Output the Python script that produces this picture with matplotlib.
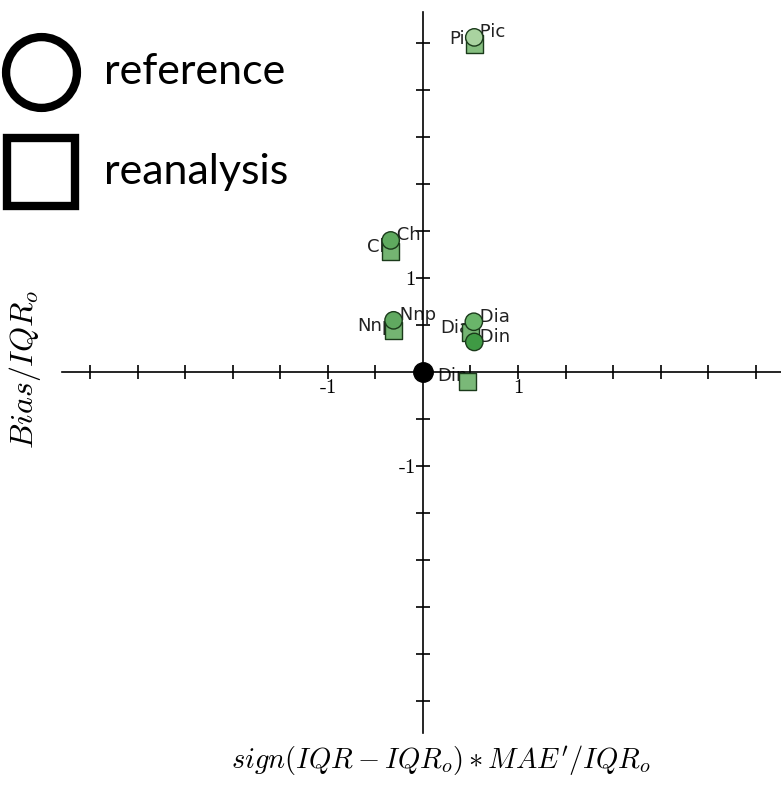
import numpy as np
import matplotlib
matplotlib.use("Agg")
import matplotlib.pyplot as plt

# ---- data ----
names = ["Pic", "Ch", "Nnp", "Dia", "Din"]
ref_x = [0.54, -0.34, -0.31, 0.535, 0.54]
ref_y = [3.56, 1.40, 0.55, 0.535, 0.32]
rea_x = [0.54, -0.34, -0.31, 0.50, 0.47]
rea_y = [3.49, 1.28, 0.44, 0.42, -0.10]
obs_x = [0.0]
obs_y = [0.0]
tick_vals = [-3.5, -3.0, -2.5, -2.0, -1.5, -1.0, -0.5, 0.5, 1.0, 1.5, 2.0, 2.5, 3.0, 3.5]
tick_text = {-1.0: "-1", 1.0: "1"}
legend_labels = ["reference", "reanalysis"]

# ---- styles ----
ref_colors = ["#a9d3a0", "#5faa5f", "#60a960", "#6ab56a", "#3f9a44"]
rea_colors = ["#86bf80", "#74b472", "#74b472", "#74b472", "#7ab878"]

plt.rcParams["mathtext.fontset"] = "cm"
W, H = 781, 785
fig = plt.figure(figsize=(W / 100, H / 100), dpi=100)
ax = fig.add_axes([62 / W, 52 / H, 722 / W, 721 / H])
ax.set_xlim(-3.8, 3.8)
ax.set_ylim(-3.84, 3.83)

for s in ["top", "right"]:
    ax.spines[s].set_visible(False)
for s in ["left", "bottom"]:
    ax.spines[s].set_position(("data", 0))
    ax.spines[s].set_linewidth(1.2)
ax.patch.set_alpha(0)

labels = [tick_text.get(v, "") for v in tick_vals]
ax.set_xticks(tick_vals)
ax.set_yticks(tick_vals)
ax.tick_params(direction="inout", length=10, width=1.2, labelsize=15,
               colors="black", pad=0)
ax.set_xticklabels(labels, fontfamily="cmr10", fontsize=15)
ax.set_yticklabels(labels, fontfamily="cmr10", fontsize=15)

ms = 12.5
ax.scatter(rea_x, rea_y, marker="s", s=ms ** 2, c=rea_colors,
           edgecolors="#1a3a1a", linewidths=1.0, zorder=3, clip_on=False)
ax.scatter(ref_x, ref_y, marker="o", s=ms ** 2, c=ref_colors,
           edgecolors="#1a3a1a", linewidths=1.0, zorder=4, clip_on=False)
ax.scatter(obs_x, obs_y, marker="o", s=14 ** 2, c="black", zorder=5)

for n, x, y in zip(names, ref_x, ref_y):
    ax.text(x, y, " " + n, ha="left", va="baseline", fontsize=13,
            color="#222222", zorder=2)
for n, x, y in zip(names, rea_x, rea_y):
    ax.text(x, y, n, ha="right", va="baseline", fontsize=13,
            color="#222222", zorder=2)

fig.text(441 / W, 1 - 760 / H, r"$sign(IQR-IQR_o)*MAE'/IQR_o$",
         ha="center", va="center", fontsize=20.5)
fig.text(25 / W, 1 - 370 / H, r"$Bias/IQR_o$", rotation=90,
         ha="center", va="center", fontsize=23)

# legend drawn in figure pixel space
lax = fig.add_axes([0, 0, 1, 1])
lax.set_xlim(0, W)
lax.set_ylim(H, 0)
lax.axis("off")
lax.plot([41], [72], marker="o", markersize=51, markerfacecolor="none",
         markeredgecolor="black", markeredgewidth=6, linestyle="none")
lax.plot([41], [172], marker="s", markersize=49, markerfacecolor="none",
         markeredgecolor="black", markeredgewidth=6, linestyle="none")
for lbl, yy in zip(legend_labels, [72, 172]):
    lax.text(104, yy, lbl, ha="left", va="center", fontsize=31,
             family="Lato", color="black")

fig.savefig("out.png", dpi=100)
